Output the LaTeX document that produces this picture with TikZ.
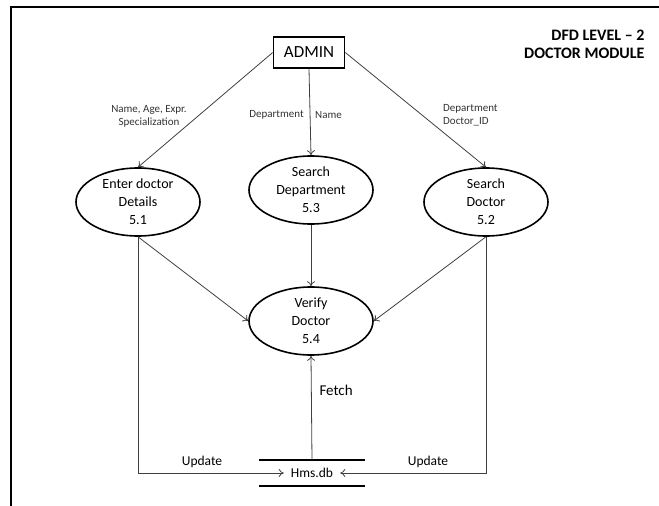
\documentclass[tikz,border=0pt]{standalone}
\usepackage{fontspec}
\setmainfont{Carlito}
\usetikzlibrary{arrows.meta,shapes.geometric}
\tikzset{
    process/.style={draw, ellipse, line width=1.6pt, minimum width=124pt, minimum height=68pt,
        inner sep=0pt, align=center, font=\fontsize{14}{18}\selectfont},
    entity/.style={draw, rectangle, line width=1.6pt, minimum width=71pt, minimum height=31pt,
        inner sep=0pt, font=\fontsize{17}{20}\selectfont},
    flow/.style={draw=black!75, line width=0.8pt, -{To[length=5pt,width=8pt]}},
    flowlabel/.style={font=\fontsize{11}{13}\selectfont, text=black!80, inner sep=0pt},
    storeline/.style={line width=2.2pt}
}

\begin{document}
\begin{tikzpicture}[x=1pt, y=-1pt]
    \useasboundingbox (0,0) rectangle (659,506);
    \draw[line width=2.5pt] (11,506) -- (11,7) -- (659,7);

    \node[anchor=east, align=right, font=\bfseries\fontsize{16}{18}\selectfont] (title) at (648,44)
        {DFD LEVEL -- 2\\DOCTOR MODULE};

    \node[entity] (admin) at (309,52.5) {ADMIN};
    \node[process] (enter) at (138,202) {Enter doctor\\Details\\5.1};
    \node[process] (searchdept) at (311,190) {Search\\Department\\5.3};
    \node[process] (searchdoc) at (486,202) {Search\\Doctor\\5.2};
    \node[process] (verify) at (311,321) {Verify\\Doctor\\5.4};

    \node[minimum width=105pt, minimum height=26pt, inner sep=0pt] (store) at (312,473) {};
    \node[font=\fontsize{13.5}{16}\selectfont, inner xsep=7pt, inner ysep=1pt] (hms) at (312,473) {Hms.db};
    \draw[storeline] (store.north west) -- (store.north east);
    \draw[storeline] (store.south west) -- (store.south east);

    \draw[flow] (admin.west) -- (enter.north);
    \draw[flow] (admin.south) -- (searchdept.north);
    \draw[flow] (admin.east) -- (searchdoc.north);
    \draw[flow] (enter.south) -- (verify.west);
    \draw[flow] (searchdept.south) -- (verify.north);
    \draw[flow] (searchdoc.south) -- (verify.east);
    \draw[flow] (store.north) -- (verify.south);
    \draw[flow] (enter.south) |- (hms.west);
    \draw[flow] (searchdoc.south) |- (hms.east);

    \node[flowlabel, align=center] (lblenter) at (149,116) {Name, Age, Expr.\\Specialization};
    \node[flowlabel, anchor=east] (lbldept) at (304,115) {Department};
    \node[flowlabel, anchor=west] (lblname) at (315,115) {Name};
    \node[flowlabel, align=left, anchor=west] (lbldoc) at (443,115) {Department\\Doctor\_ID};
    \node[font=\fontsize{15}{18}\selectfont, anchor=west] (fetch) at (316,390) {Fetch};
    \node[font=\fontsize{13.5}{16}\selectfont] (updleft) at (202,462) {Update};
    \node[font=\fontsize{13.5}{16}\selectfont] (updright) at (428,462) {Update};
\end{tikzpicture}
\end{document}
